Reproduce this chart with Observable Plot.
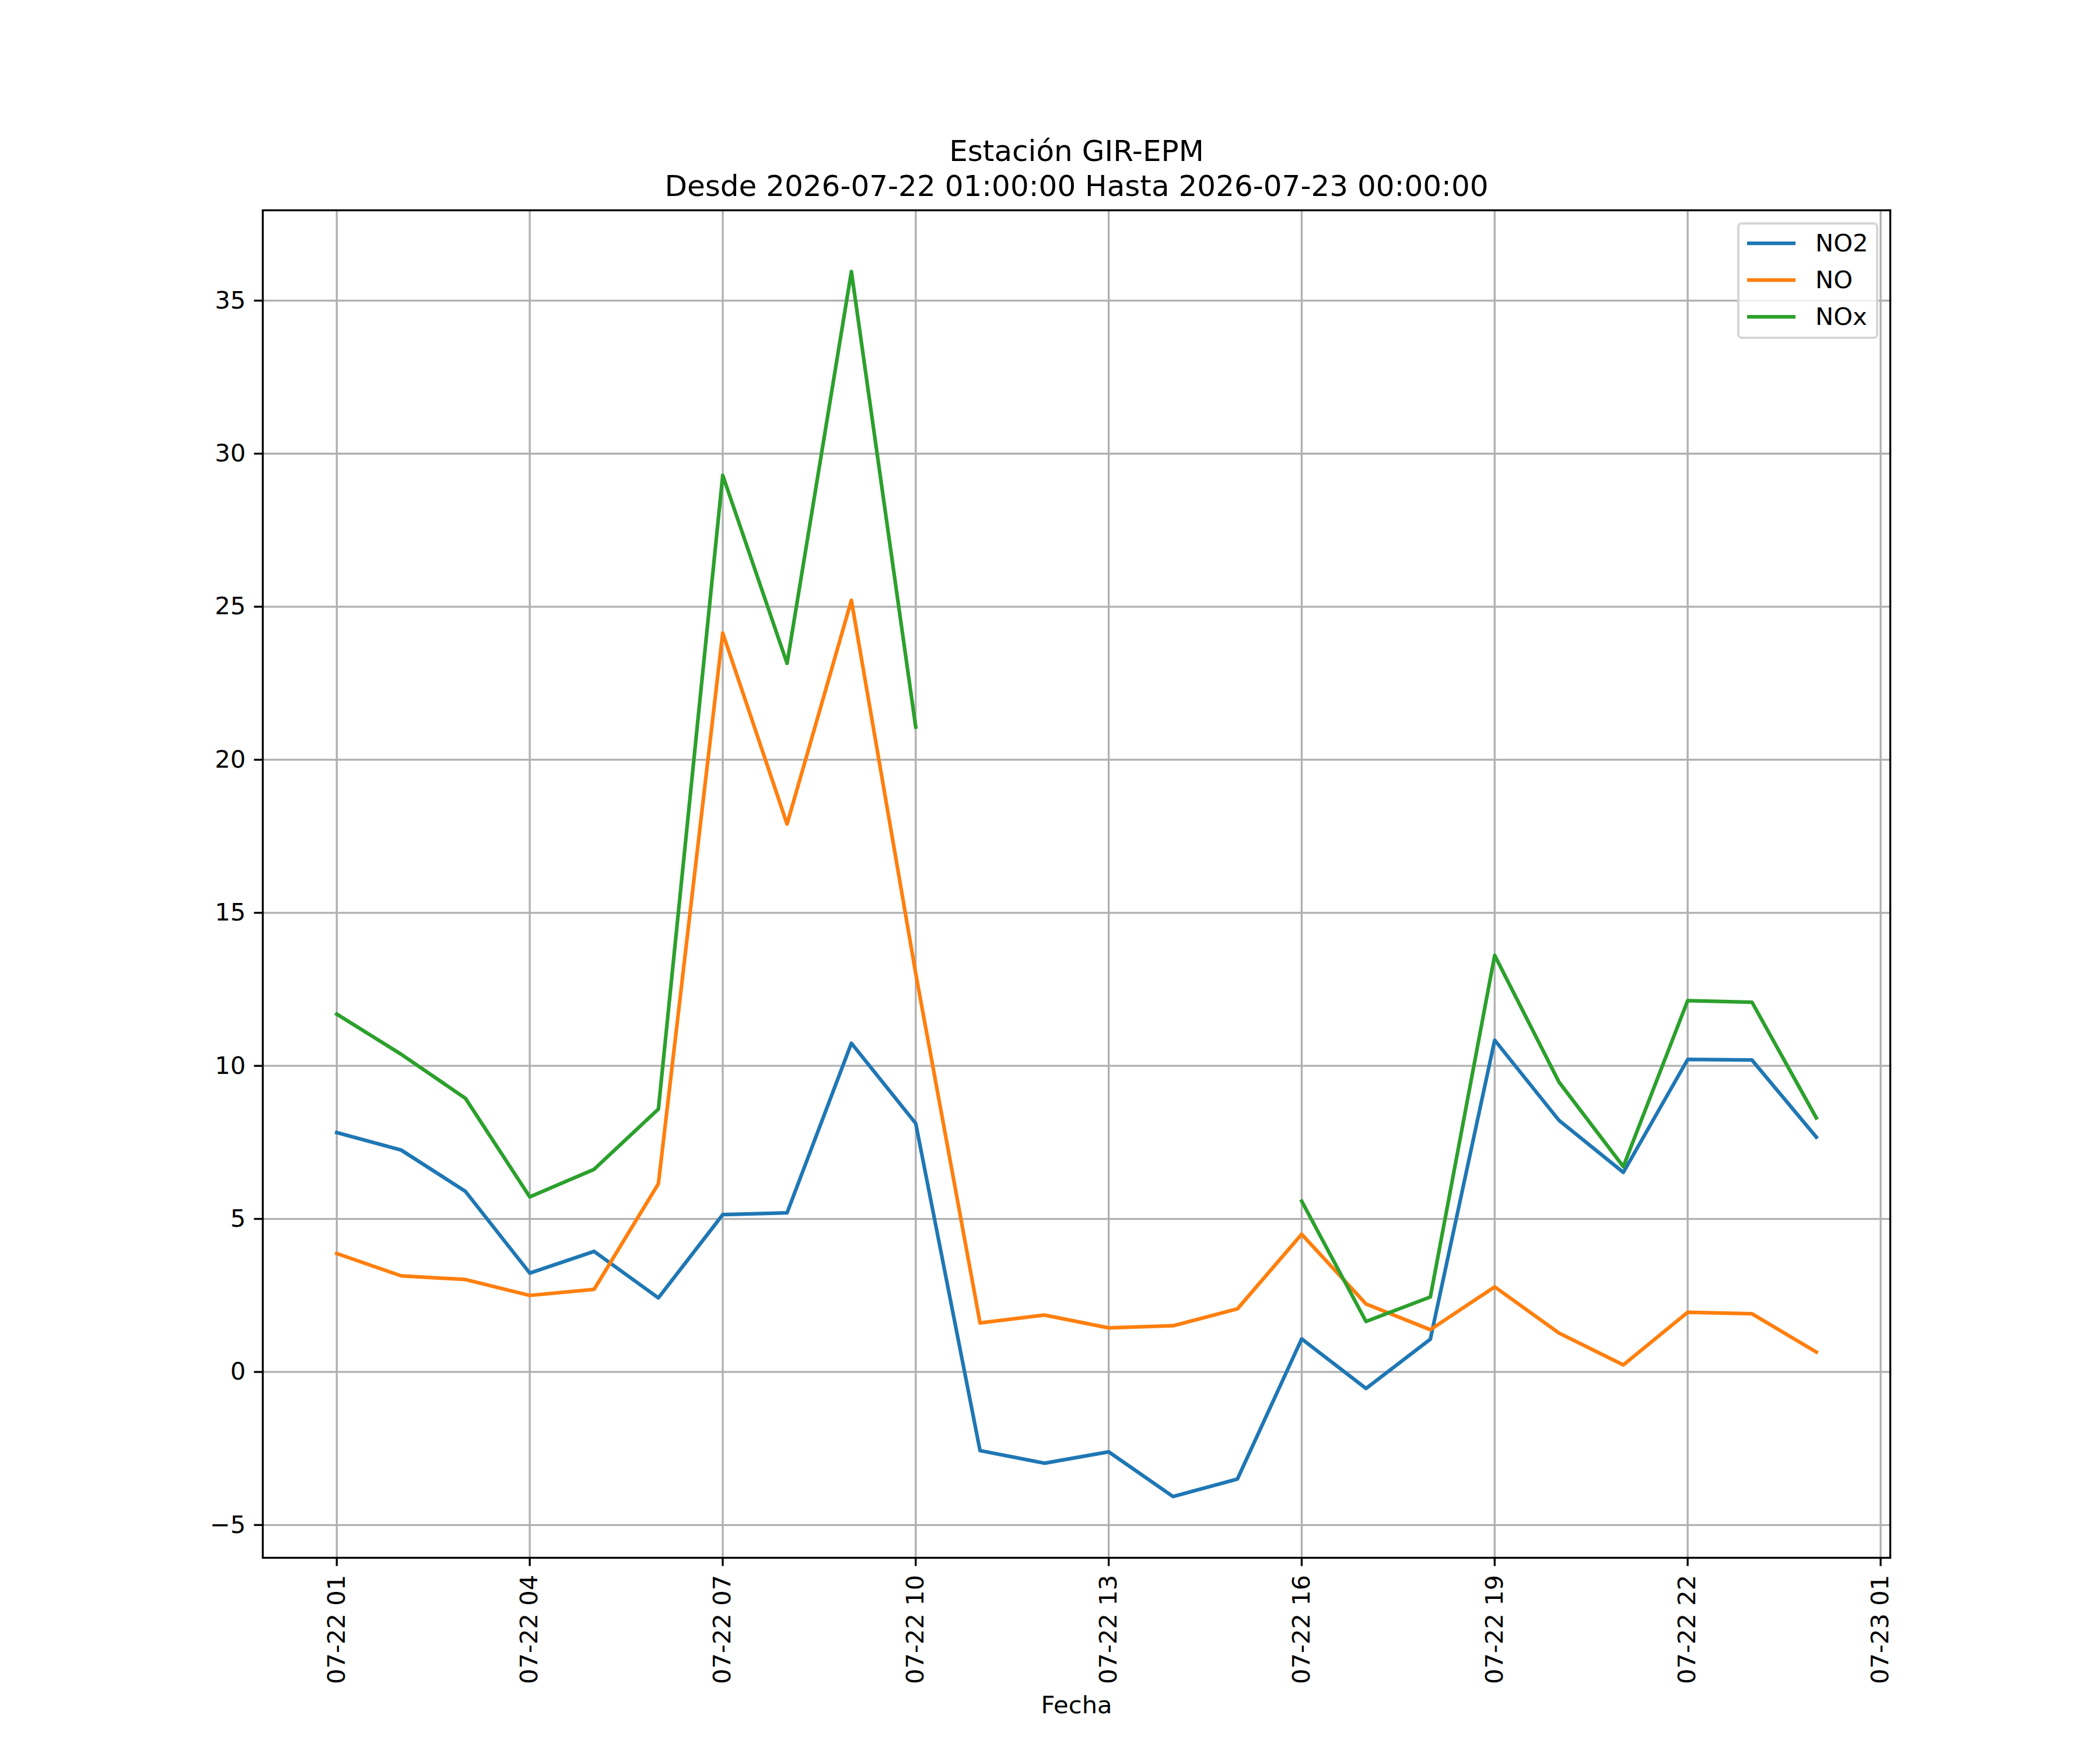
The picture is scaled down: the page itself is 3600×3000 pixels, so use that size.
<!DOCTYPE html>
<html>
<head>
<meta charset="utf-8">
<script src="https://cdn.jsdelivr.net/npm/d3@7"></script>
<script src="https://cdn.jsdelivr.net/npm/@observablehq/plot@0.6"></script>
<style>
  html, body { margin: 0; padding: 0; background: white; }
  #wrap { position: relative; width: 3600px; height: 3000px; font-family: "DejaVu Sans", sans-serif; }
  #legend { position: absolute; left: 2978px; top: 381px; width: 242px; height: 200px; box-sizing: border-box;
            border: 4px solid rgba(204,204,204,0.8); border-radius: 8px; background: rgba(255,255,255,0.8); }
  .row { height: 63px; display: flex; align-items: center; }
  .row svg { margin-left: 13px; margin-right: 34px; }
  .row span { font-size: 41.67px; color: black; line-height: 1; }
</style>
</head>
<body>
<div id="wrap"></div>
<script>
// ---- data ----
const times = [
  "2026-07-22T01:00:00Z","2026-07-22T02:00:00Z","2026-07-22T03:00:00Z","2026-07-22T04:00:00Z",
  "2026-07-22T05:00:00Z","2026-07-22T06:00:00Z","2026-07-22T07:00:00Z","2026-07-22T08:00:00Z",
  "2026-07-22T09:00:00Z","2026-07-22T10:00:00Z","2026-07-22T11:00:00Z","2026-07-22T12:00:00Z",
  "2026-07-22T13:00:00Z","2026-07-22T14:00:00Z","2026-07-22T15:00:00Z","2026-07-22T16:00:00Z",
  "2026-07-22T17:00:00Z","2026-07-22T18:00:00Z","2026-07-22T19:00:00Z","2026-07-22T20:00:00Z",
  "2026-07-22T21:00:00Z","2026-07-22T22:00:00Z","2026-07-22T23:00:00Z","2026-07-23T00:00:00Z"
];
const no2 = [7.82, 7.25, 5.90, 3.23, 3.94, 2.42, 5.14, 5.20, 10.74, 8.12, -2.57, -2.98,
             -2.61, -4.07, -3.50, 1.08, -0.54, 1.07, 10.84, 8.22, 6.52, 10.21, 10.19, 7.67];
const no  = [3.87, 3.14, 3.02, 2.50, 2.70, 6.15, 24.14, 17.90, 25.21, 13.02, 1.60, 1.86,
             1.44, 1.51, 2.06, 4.50, 2.22, 1.38, 2.78, 1.27, 0.23, 1.95, 1.90, 0.65];
const nox = [11.69, 10.38, 8.94, 5.72, 6.62, 8.59, 29.29, 23.15, 35.95, 21.07, null, null,
             null, null, null, 5.58, 1.65, 2.45, 13.61, 9.47, 6.71, 12.13, 12.08, 8.30];
const seriesNames = ["NO2", "NO", "NOx"];
const seriesColors = ["#1f77b4", "#ff7f0e", "#2ca02c"];
const xTicks = [
  "2026-07-22T01:00:00Z","2026-07-22T04:00:00Z","2026-07-22T07:00:00Z","2026-07-22T10:00:00Z",
  "2026-07-22T13:00:00Z","2026-07-22T16:00:00Z","2026-07-22T19:00:00Z","2026-07-22T22:00:00Z",
  "2026-07-23T01:00:00Z"
];
const yTicks = [-5, 0, 5, 10, 15, 20, 25, 30, 35];
const titleText = "Estación GIR-EPM\nDesde 2026-07-22 01:00:00 Hasta 2026-07-23 00:00:00";
const xLabel = "Fecha";

// ---- build ----
const dates = times.map(t => new Date(t));
const tickDates = xTicks.map(t => new Date(t));
const seriesValues = [no2, no, nox];
const rows = [];
seriesNames.forEach((name, i) => {
  seriesValues[i].forEach((v, j) => rows.push({series: name, t: dates[j], v: v}));
});
const xe = d3.extent(dates);
const xs = xe[1] - xe[0];
const xDomain = [new Date(+xe[0] - 0.05 * xs), new Date(+xe[1] + 0.05 * xs)];
const allV = rows.map(r => r.v).filter(v => v != null);
const ye = d3.extent(allV);
const ys = ye[1] - ye[0];
const yDomain = [ye[0] - 0.05 * ys, ye[1] + 0.05 * ys];

const fs = 41.67;
const lw = 3.33;
const minusFmt = d => (d < 0 ? "\u2212" + Math.abs(d) : String(d));

const chart = Plot.plot({
  width: 3600,
  height: 3000,
  marginLeft: 450,
  marginRight: 360,
  marginTop: 360,
  marginBottom: 330,
  style: {fontFamily: "DejaVu Sans", fontSize: fs + "px", background: "white", color: "black", overflow: "visible"},
  x: {type: "utc", domain: xDomain},
  y: {domain: yDomain},
  color: {domain: seriesNames, range: seriesColors},
  marks: [
    Plot.gridX(tickDates, {stroke: "#b0b0b0", strokeOpacity: 1, strokeWidth: lw}),
    Plot.gridY(yTicks, {stroke: "#b0b0b0", strokeOpacity: 1, strokeWidth: lw}),
    Plot.line(rows, {x: "t", y: "v", z: "series", stroke: "series", strokeWidth: 6.25,
                     strokeLinejoin: "round", strokeLinecap: "square"}),
    Plot.frame({stroke: "black", strokeWidth: lw}),
    Plot.axisX(tickDates, {tickFormat: d3.utcFormat("%m-%d %H"), tickRotate: -90, tickSize: 14.6,
                           tickPadding: 14.6, strokeWidth: lw, fontSize: fs, label: null}),
    Plot.axisY(yTicks, {tickFormat: minusFmt, tickSize: 14.6, tickPadding: 14.6, strokeWidth: lw,
                        fontSize: fs, label: null}),
    Plot.text([xLabel], {frameAnchor: "bottom", lineAnchor: "bottom", dy: 266, fontSize: fs, text: d => d}),
    Plot.text([titleText], {frameAnchor: "top", lineAnchor: "bottom", dy: -25, fontSize: 50,
                            lineHeight: 1.2, text: d => d})
  ]
});
const wrap = document.getElementById("wrap");
wrap.appendChild(chart);

// legend
const legend = document.createElement("div");
legend.id = "legend";
seriesNames.forEach((name, i) => {
  const row = document.createElement("div");
  row.className = "row";
  row.innerHTML = `<svg width="83" height="10"><line x1="0" y1="5" x2="83" y2="5" stroke="${seriesColors[i]}" stroke-width="6.25"/></svg><span>${name}</span>`;
  legend.appendChild(row);
});
wrap.appendChild(legend);
</script>
</body>
</html>
